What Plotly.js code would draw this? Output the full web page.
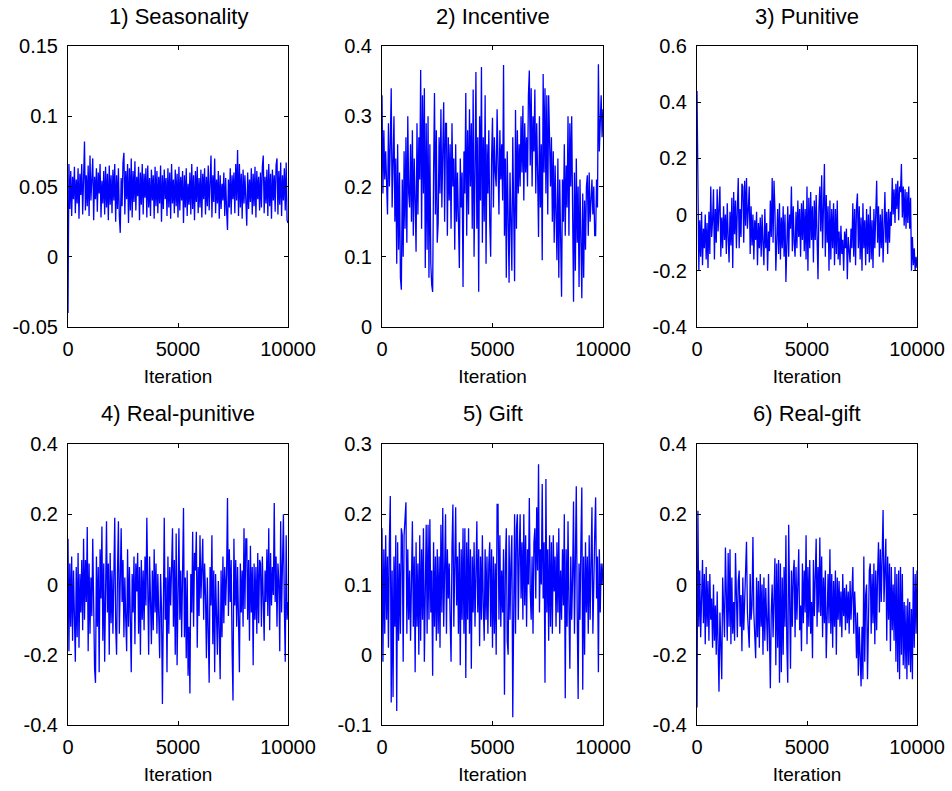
<!DOCTYPE html>
<html>
<head>
<meta charset="utf-8">
<script src="https://cdn.plot.ly/plotly-3.0.1.min.js"></script>
<style>html,body{margin:0;padding:0;background:#fff;}#chart{width:952px;height:791px;}</style>
</head>
<body>
<div id="chart"></div>
<script>
// ---- data ----
const titles = ["1) Seasonality", "2) Incentive", "3) Punitive", "4) Real-punitive", "5) Gift", "6) Real-gift"];
const xLabel = "Iteration";
const xTickVals = [0, 5000, 10000];
const xTickText = ["0", "5000", "10000"];
const lastIteration = 10000;

const seasonality = [
 -0.040,0.066,0.034,0.061,0.029,0.057,0.041,0.064,0.031,0.055,
 0.038,0.063,0.027,0.059,0.044,0.066,0.030,0.068,0.082,0.033,
 0.058,0.036,0.065,0.029,0.072,0.040,0.062,0.070,0.026,0.057,
 0.041,0.063,0.032,0.060,0.045,0.066,0.028,0.054,0.038,0.061,
 0.030,0.064,0.035,0.059,0.026,0.065,0.037,0.058,0.031,0.062,
 0.040,0.066,0.025,0.058,0.034,0.063,0.029,0.017,0.056,0.036,
 0.067,0.074,0.030,0.061,0.041,0.066,0.024,0.063,0.033,0.070,
 0.028,0.061,0.039,0.068,0.033,0.057,0.043,0.064,0.026,0.060,
 0.037,0.066,0.030,0.059,0.042,0.063,0.028,0.065,0.035,0.056,
 0.029,0.062,0.040,0.058,0.027,0.064,0.036,0.061,0.031,0.057,
 0.038,0.065,0.025,0.058,0.034,0.062,0.041,0.056,0.029,0.063,
 0.035,0.060,0.027,0.066,0.038,0.055,0.031,0.062,0.036,0.059,
 0.028,0.064,0.033,0.057,0.040,0.061,0.024,0.058,0.035,0.063,
 0.029,0.052,0.037,0.060,0.030,0.066,0.034,0.058,0.026,0.061,
 0.039,0.064,0.031,0.056,0.035,0.062,0.028,0.059,0.041,0.063,
 0.030,0.057,0.036,0.065,0.033,0.060,0.072,0.028,0.058,0.039,
 0.070,0.031,0.055,0.038,0.061,0.027,0.058,0.034,0.052,0.040,
 0.060,0.029,0.056,0.033,0.019,0.055,0.035,0.063,0.030,0.058,
 0.041,0.060,0.031,0.066,0.040,0.076,0.029,0.066,0.035,0.059,
 0.027,0.062,0.038,0.058,0.031,0.022,0.060,0.034,0.055,0.039,
 0.063,0.030,0.059,0.036,0.064,0.028,0.061,0.041,0.057,0.033,
 0.060,0.035,0.064,0.072,0.031,0.057,0.038,0.062,0.029,0.066,
 0.036,0.059,0.027,0.062,0.040,0.058,0.032,0.065,0.070,0.030,
 0.061,0.037,0.067,0.029,0.058,0.040,0.063,0.033,0.067,0.026,
 0.024];

const incentive = [
 0.33,0.19,0.28,0.21,0.25,0.18,0.16,0.29,0.20,0.26,
 0.34,0.17,0.27,0.30,0.15,0.24,0.09,0.26,0.11,0.22,
 0.07,0.053,0.21,0.10,0.25,0.14,0.27,0.12,0.30,0.19,
 0.17,0.26,0.15,0.28,0.13,0.24,0.18,0.107,0.29,0.16,
 0.27,0.21,0.366,0.14,0.33,0.19,0.34,0.084,0.29,0.11,
 0.30,0.07,0.26,0.09,0.06,0.05,0.22,0.333,0.16,0.28,
 0.12,0.148,0.27,0.19,0.31,0.17,0.25,0.32,0.15,0.29,
 0.29,0.13,0.27,0.18,0.26,0.14,0.29,0.20,0.24,0.11,
 0.26,0.15,0.22,0.12,0.084,0.24,0.17,0.22,0.057,0.25,
 0.19,0.333,0.13,0.28,0.16,0.31,0.20,0.29,0.14,0.338,
 0.10,0.22,0.363,0.14,0.27,0.05,0.30,0.18,0.37,0.12,
 0.27,0.15,0.33,0.09,0.26,0.19,0.28,0.15,0.10,0.24,
 0.298,0.17,0.27,0.22,0.20,0.31,0.25,0.16,0.28,0.21,
 0.26,0.18,0.373,0.13,0.24,0.07,0.25,0.11,0.063,0.22,
 0.14,0.08,0.27,0.10,0.065,0.309,0.14,0.28,0.19,0.26,
 0.20,0.30,0.22,0.315,0.18,0.29,0.22,0.27,0.20,0.33,
 0.365,0.23,0.34,0.20,0.30,0.25,0.338,0.19,0.29,0.22,
 0.128,0.30,0.17,0.26,0.095,0.36,0.22,0.34,0.19,0.33,
 0.16,0.33,0.24,0.20,0.27,0.15,0.25,0.12,0.23,0.17,
 0.095,0.24,0.07,0.21,0.12,0.043,0.21,0.15,0.26,0.13,
 0.23,0.17,0.30,0.13,0.29,0.20,0.30,0.16,0.036,0.22,
 0.08,0.24,0.12,0.20,0.057,0.21,0.09,0.041,0.19,0.07,
 0.18,0.11,0.20,0.216,0.13,0.22,0.15,0.20,0.21,0.16,
 0.20,0.13,0.13,0.21,0.17,0.374,0.25,0.29,0.33,0.27,
 0.31];

const punitive = [
 0.44,-0.10,-0.20,-0.02,-0.15,0.01,-0.18,-0.05,-0.12,0.00,
 -0.16,-0.03,-0.19,0.01,-0.14,0.10,-0.08,-0.02,0.09,-0.16,
 0.02,-0.10,0.09,-0.06,0.04,0.10,-0.15,-0.01,-0.12,0.03,
 -0.09,0.00,-0.14,0.04,-0.08,-0.17,0.01,-0.11,0.06,-0.19,
 0.08,-0.07,0.05,-0.12,0.02,0.13,-0.12,0.02,-0.08,0.11,
 0.10,-0.10,0.12,-0.04,0.13,-0.05,0.02,0.10,-0.14,0.03,
 -0.11,0.00,-0.16,-0.02,-0.09,0.01,-0.18,-0.03,-0.12,-0.01,
 -0.15,0.00,-0.10,-0.18,0.02,-0.12,-0.03,-0.20,-0.06,-0.13,
 0.05,-0.08,0.13,-0.10,0.12,0.02,-0.20,-0.12,0.02,-0.14,
 0.04,-0.16,-0.01,-0.12,0.03,-0.15,0.00,-0.24,-0.07,0.03,
 -0.15,0.00,-0.05,0.10,-0.13,0.03,-0.10,-0.15,0.01,-0.12,
 0.05,-0.08,0.02,-0.15,0.04,-0.09,0.05,-0.13,0.02,-0.16,
 0.10,-0.20,0.06,-0.12,0.08,-0.09,0.03,-0.17,0.05,-0.09,
 0.07,-0.13,-0.23,0.02,0.10,-0.06,0.14,-0.12,0.05,0.18,
 -0.15,0.07,-0.10,0.03,-0.20,0.05,-0.16,0.02,-0.12,0.04,
 -0.18,0.02,-0.14,0.05,-0.16,-0.06,-0.18,-0.04,-0.14,-0.09,
 -0.20,-0.06,-0.12,-0.05,-0.23,-0.08,-0.13,-0.17,-0.05,-0.12,
 0.04,-0.15,0.02,-0.18,0.03,0.075,-0.12,0.03,-0.16,-0.01,
 -0.20,0.04,-0.12,-0.02,-0.18,0.02,-0.14,0.00,-0.17,0.03,
 -0.16,-0.02,-0.19,0.02,-0.12,-0.01,0.12,-0.10,0.03,-0.15,
 0.00,-0.12,0.02,-0.17,0.03,0.08,-0.10,0.01,-0.14,0.02,
 -0.10,0.01,-0.04,0.13,0.00,0.09,-0.03,0.11,0.02,0.12,
 -0.02,0.10,0.08,0.18,-0.01,0.10,-0.04,0.09,-0.05,0.08,
 -0.03,0.10,-0.05,0.06,-0.20,-0.08,-0.18,-0.12,-0.20,-0.15,
 -0.19];

const realPunitive = [
 0.13,-0.19,0.06,-0.12,0.08,-0.16,0.04,-0.10,-0.22,0.05,
 -0.15,0.09,-0.18,0.03,-0.08,0.07,-0.13,0.13,-0.10,0.07,
 -0.05,0.164,-0.19,0.06,-0.14,0.02,-0.09,0.13,-0.16,-0.24,
 -0.28,0.08,-0.12,0.05,-0.25,0.10,-0.04,0.165,-0.16,0.06,
 -0.22,0.03,0.18,-0.08,0.06,-0.20,0.09,-0.11,0.04,-0.14,
 0.08,0.19,-0.12,-0.20,0.04,0.18,-0.14,0.07,0.16,-0.05,
 0.07,-0.15,0.02,-0.10,-0.19,0.10,-0.12,0.05,-0.16,-0.25,
 0.03,-0.08,0.08,-0.17,0.06,-0.02,0.09,-0.14,0.05,-0.20,
 0.07,-0.10,0.04,-0.13,0.08,-0.06,0.19,-0.06,-0.20,0.08,
 -0.10,-0.17,0.04,-0.13,0.10,-0.08,0.06,-0.14,0.03,-0.11,
 -0.21,0.03,-0.07,-0.34,0.06,0.19,-0.10,0.02,-0.25,0.08,
 -0.14,0.05,-0.06,0.10,0.16,-0.12,0.07,-0.20,0.145,-0.23,
 -0.08,0.16,-0.10,0.04,-0.15,0.06,0.218,-0.15,0.02,-0.21,
 0.04,-0.26,-0.12,-0.31,0.03,-0.08,0.15,-0.12,0.09,0.04,
 0.15,-0.18,0.05,-0.09,0.14,-0.04,0.02,0.13,-0.10,0.06,
 -0.03,-0.21,0.02,-0.11,-0.28,0.05,-0.06,0.14,-0.17,0.04,
 -0.25,0.03,-0.10,-0.20,0.01,-0.14,-0.27,0.04,-0.15,0.08,
 -0.11,0.05,-0.06,0.03,0.246,-0.09,0.10,-0.05,0.07,-0.18,
 -0.33,0.13,-0.06,0.07,-0.12,0.05,-0.19,-0.25,0.06,-0.08,
 0.04,-0.12,0.16,-0.07,0.13,0.13,-0.10,0.07,-0.16,0.11,
 -0.08,0.05,-0.23,0.06,-0.10,0.05,-0.14,0.09,-0.11,0.07,
 0.06,-0.12,0.08,-0.09,-0.16,0.04,-0.05,0.10,-0.09,0.16,
 -0.13,0.09,-0.06,0.05,-0.03,0.232,-0.05,0.08,-0.12,0.06,
 0.01,-0.19,0.18,-0.08,0.05,0.20,-0.06,-0.22,0.14,-0.10,
 -0.05];

const gift = [
 0.18,-0.01,0.15,0.03,0.17,0.05,0.14,0.01,0.16,0.226,
 -0.068,0.12,-0.06,0.14,0.04,0.17,-0.08,0.16,0.02,0.13,
 0.03,0.18,0.17,-0.01,0.17,0.20,0.217,0.03,0.15,0.05,
 0.12,0.02,0.16,0.19,0.04,0.14,-0.025,0.16,0.04,0.13,
 0.00,0.17,0.02,0.15,0.05,0.18,-0.01,0.15,0.185,0.03,
 0.185,0.05,0.193,0.06,0.12,-0.03,0.16,0.04,0.14,0.02,
 0.15,0.03,0.14,0.01,0.185,0.06,0.209,0.04,0.16,0.20,
 0.03,0.15,0.08,0.13,0.05,-0.01,0.15,0.214,0.04,0.17,
 0.21,0.07,0.14,0.03,0.16,-0.015,0.15,0.05,0.18,0.03,
 0.18,-0.033,0.16,0.05,0.18,0.03,0.15,-0.02,0.14,0.06,
 0.16,0.04,0.13,0.19,0.06,0.15,0.012,0.14,0.05,0.17,
 0.07,0.02,0.15,0.05,0.14,0.03,0.13,0.16,0.04,0.15,
 0.01,0.14,0.03,0.13,0.00,0.214,0.214,0.05,0.17,0.04,
 0.12,0.06,0.15,-0.057,0.13,0.18,0.02,0.00,0.17,0.05,
 0.13,0.17,-0.089,0.15,0.20,0.03,0.18,0.20,0.05,0.14,
 0.20,0.08,0.16,0.05,0.20,0.07,0.17,0.04,0.15,0.10,
 0.223,0.09,0.05,0.14,0.03,0.16,0.18,0.08,0.21,0.12,
 0.271,0.06,0.15,0.10,0.243,0.08,0.16,-0.04,0.25,0.06,
 0.15,0.02,0.17,0.04,0.16,0.03,0.17,0.09,0.14,0.04,
 0.16,0.06,0.18,0.03,0.12,0.05,0.15,0.07,0.20,-0.062,
 0.15,0.04,0.19,0.07,-0.02,0.14,0.05,0.11,0.218,0.03,
 0.15,0.24,0.06,-0.063,0.13,0.05,0.16,0.238,-0.05,0.14,
 0.00,0.16,0.06,0.14,0.03,0.17,0.05,0.15,0.21,0.03,
 0.13,0.17,0.224,0.08,0.14,-0.025,0.15,0.06,0.13,0.10,
 0.13];

const realGift = [
 -0.35,0.21,-0.12,0.04,-0.15,0.02,0.07,-0.11,0.03,-0.17,
 0.05,-0.12,0.01,-0.16,0.03,-0.10,-0.04,-0.18,0.00,-0.16,
 -0.06,-0.20,-0.02,-0.17,-0.305,-0.08,-0.19,-0.27,0.02,-0.12,
 -0.15,0.105,-0.08,-0.16,0.09,-0.12,0.10,-0.17,0.02,-0.14,
 -0.05,-0.16,0.09,-0.10,-0.15,0.01,0.04,-0.12,-0.03,-0.19,
 0.02,-0.13,-0.05,0.06,0.122,-0.08,-0.14,-0.18,0.03,-0.10,
 -0.06,0.135,-0.08,-0.14,-0.21,0.02,-0.15,0.01,-0.18,0.03,
 -0.12,0.00,-0.20,0.02,-0.16,-0.01,-0.13,-0.19,0.03,-0.24,
 -0.295,-0.08,0.00,-0.15,-0.06,0.075,-0.23,0.06,-0.18,0.07,
 -0.28,0.06,-0.25,0.02,-0.20,0.05,-0.12,0.14,-0.17,-0.28,
 0.17,-0.10,-0.24,0.04,-0.12,0.03,0.07,-0.15,0.05,-0.10,
 0.02,0.10,-0.13,-0.06,-0.19,0.06,-0.11,0.04,-0.08,0.14,
 -0.17,0.05,-0.12,0.07,-0.14,-0.05,-0.21,0.07,-0.09,0.02,
 0.13,-0.12,0.05,-0.08,0.134,-0.09,0.08,-0.15,0.02,-0.11,
 0.04,-0.21,-0.07,0.03,-0.11,0.10,-0.14,0.03,-0.18,0.01,
 -0.12,0.04,-0.20,0.02,-0.10,0.01,-0.12,-0.02,-0.15,0.03,
 -0.09,-0.01,-0.13,0.00,-0.11,-0.02,-0.14,0.01,-0.10,-0.02,
 0.05,-0.14,-0.02,-0.09,-0.21,-0.08,-0.26,-0.12,-0.22,-0.29,
 -0.12,-0.27,0.08,-0.22,-0.03,0.00,-0.27,-0.10,0.04,0.06,
 -0.14,0.03,-0.11,0.06,-0.17,0.04,-0.13,0.03,0.12,-0.08,
 0.10,-0.05,0.11,0.212,-0.05,0.08,0.13,-0.16,0.08,-0.10,
 0.06,-0.19,0.05,-0.13,0.00,-0.16,0.05,-0.22,0.03,-0.25,
 0.04,-0.27,0.05,-0.20,0.03,-0.23,-0.05,-0.24,-0.06,-0.27,
 -0.04,-0.23,-0.05,-0.25,-0.07,-0.27,0.05,-0.18,0.03,-0.14,
 0.04];

const yTickVals = [
 [-0.05, 0, 0.05, 0.1, 0.15],
 [0, 0.1, 0.2, 0.3, 0.4],
 [-0.4, -0.2, 0, 0.2, 0.4, 0.6],
 [-0.4, -0.2, 0, 0.2, 0.4],
 [-0.1, 0, 0.1, 0.2, 0.3],
 [-0.4, -0.2, 0, 0.2, 0.4]
];
const yTickText = [
 ["-0.05", "0", "0.05", "0.1", "0.15"],
 ["0", "0.1", "0.2", "0.3", "0.4"],
 ["-0.4", "-0.2", "0", "0.2", "0.4", "0.6"],
 ["-0.4", "-0.2", "0", "0.2", "0.4"],
 ["-0.1", "0", "0.1", "0.2", "0.3"],
 ["-0.4", "-0.2", "0", "0.2", "0.4"]
];

const series = [seasonality, incentive, punitive, realPunitive, gift, realGift];

// ---- layout geometry (pixels) ----
const W = 952, H = 791;
const colPx = [[68, 288], [382, 603], [697, 917]];
const rowPx = [[46, 327], [444, 725]];
const titleY = [17, 413];
const FONT = "Liberation Sans, Arial, Helvetica, sans-serif";

const traces = [];
const layout = {
  width: W, height: H,
  margin: {l: 0, r: 0, t: 0, b: 0},
  paper_bgcolor: "#ffffff",
  plot_bgcolor: "#ffffff",
  showlegend: false,
  font: {family: FONT, size: 20, color: "#000"},
  annotations: []
};

series.forEach((vals, k) => {
  const n = vals.length;
  const iters = vals.map((_, i) => i * lastIteration / (n - 1));
  const ax = k + 1;
  const xa = ax === 1 ? "x" : "x" + ax;
  const ya = ax === 1 ? "y" : "y" + ax;
  traces.push({
    x: iters, y: vals, type: "scatter", mode: "lines",
    line: {color: "#0000ff", width: 1.3},
    xaxis: xa, yaxis: ya, hoverinfo: "skip"
  });
  const c = colPx[k % 3], r = rowPx[Math.floor(k / 3)];
  const yv = yTickVals[k];
  const common = {
    showline: true, linecolor: "#000", linewidth: 1, mirror: "ticks",
    ticks: "inside", ticklen: 4, tickcolor: "#000", tickwidth: 1,
    showgrid: false, zeroline: false, fixedrange: true,
    tickfont: {family: FONT, size: 20, color: "#000"}
  };
  layout["xaxis" + (ax === 1 ? "" : ax)] = Object.assign({}, common, {
    domain: [c[0] / W, c[1] / W],
    range: [0, lastIteration],
    tickmode: "array", tickvals: xTickVals, ticktext: xTickText,
    anchor: ya,
    ticklabelstandoff: 4,
    title: {text: xLabel, font: {family: FONT, size: 19, color: "#000"}, standoff: 10}
  });
  layout["yaxis" + (ax === 1 ? "" : ax)] = Object.assign({}, common, {
    domain: [1 - r[1] / H, 1 - r[0] / H],
    range: [yv[0], yv[yv.length - 1]],
    tickmode: "array", tickvals: yv, ticktext: yTickText[k],
    anchor: xa,
    ticklabelstandoff: 5
  });
  layout.annotations.push({
    text: titles[k], xref: "paper", yref: "paper",
    x: (c[0] + c[1]) / 2 / W, y: 1 - titleY[Math.floor(k / 3)] / H,
    xanchor: "center", yanchor: "middle", showarrow: false,
    font: {family: FONT, size: 22, color: "#000"}
  });
});

Plotly.newPlot("chart", traces, layout, {staticPlot: true, displayModeBar: false});
</script>
</body>
</html>
